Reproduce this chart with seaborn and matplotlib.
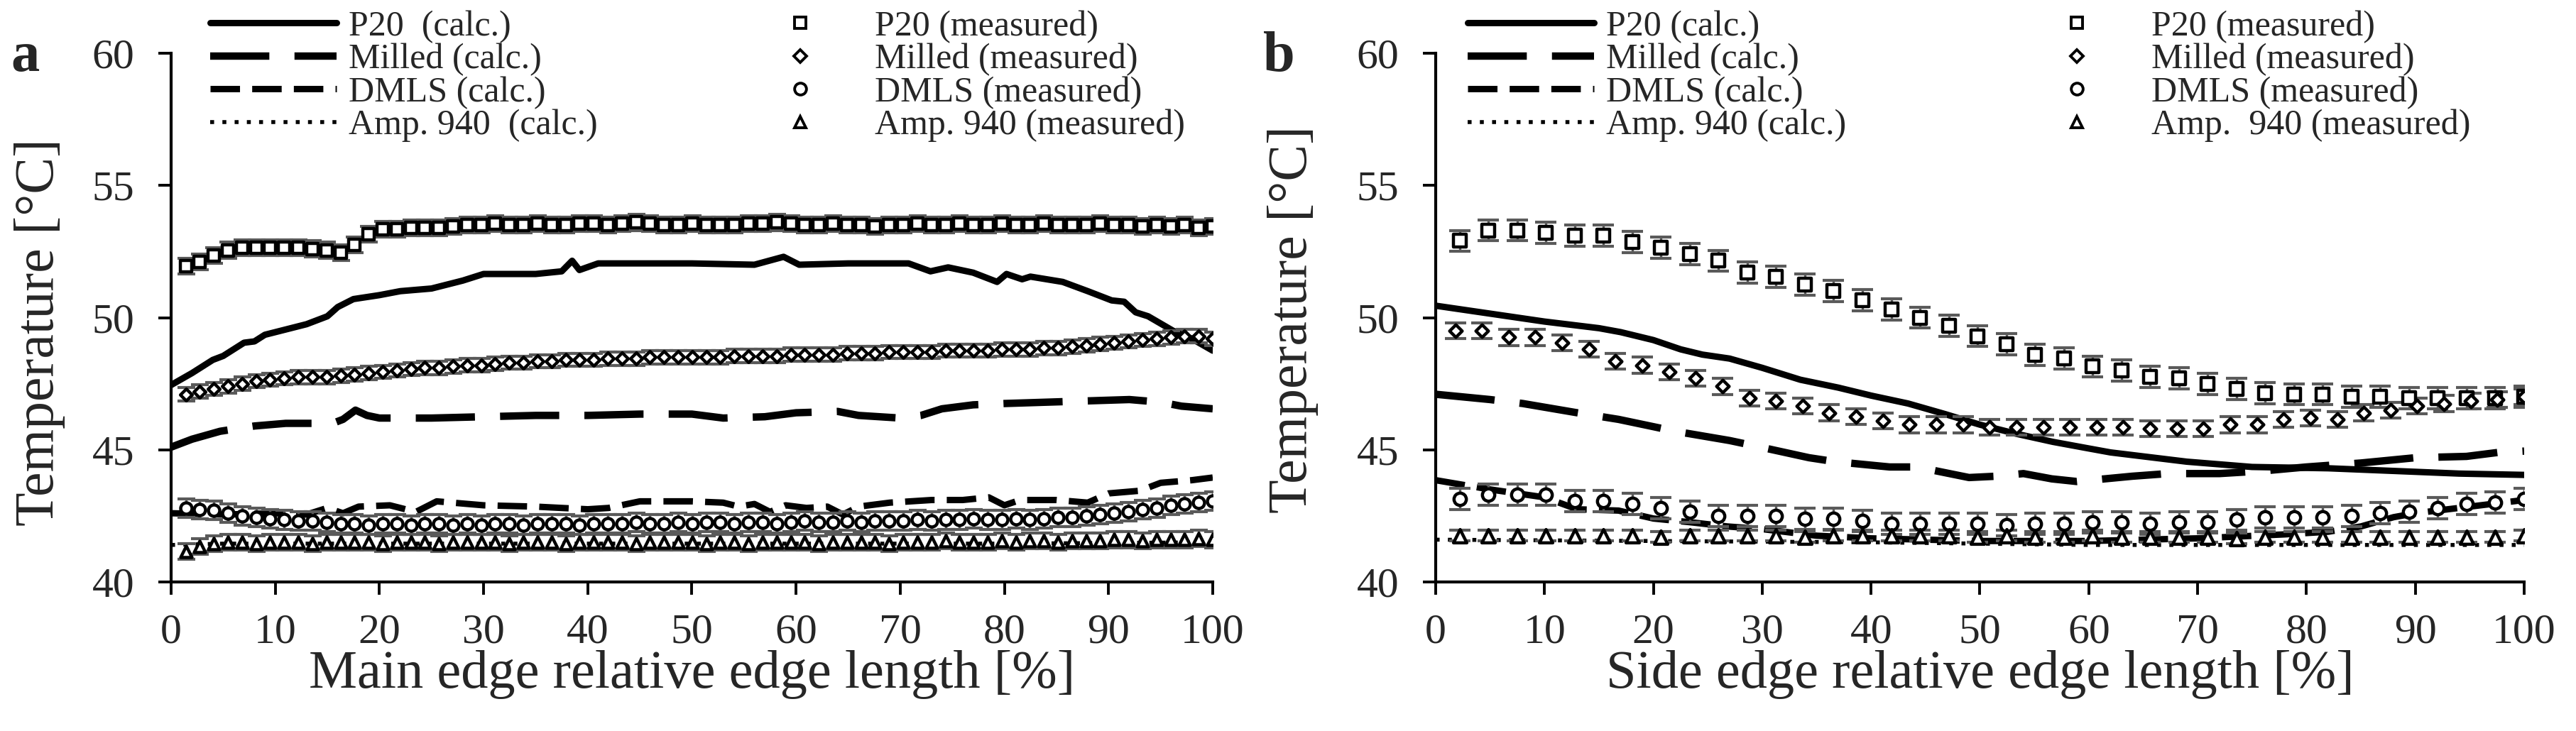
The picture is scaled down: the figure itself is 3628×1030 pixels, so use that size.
import numpy as np
import matplotlib
matplotlib.use("Agg")
import matplotlib.pyplot as plt
from matplotlib.lines import Line2D
import seaborn as sns

sns.set_style("ticks")
plt.rcParams["font.family"] = ["Liberation Serif", "DejaVu Serif"]

# ---------------- panel a : main edge ----------------
# calculated curves (x in %, temperature in degC)
a_p20_calc_x = [0, 2, 4, 5, 6, 7, 8, 9, 11, 13, 15, 16, 17.5, 20, 22, 25, 28, 30, 35, 37.5, 38.5, 39.2,
                41, 45, 50, 56, 58.8, 60.3, 65, 70.8, 72.9, 74.6, 77, 79.3, 80.2, 81.7, 82.5, 85.6,
                88, 90.3, 91.5, 92.6, 93.8, 96.2, 98, 100]
a_p20_calc_y = [47.45, 47.9, 48.4, 48.55, 48.8, 49.05, 49.1, 49.35, 49.55, 49.75, 50.05, 50.4, 50.7,
                50.85, 51.0, 51.1, 51.4, 51.65, 51.65, 51.75, 52.15, 51.8, 52.05, 52.05, 52.05, 52.0,
                52.3, 52.0, 52.05, 52.05, 51.75, 51.9, 51.7, 51.35, 51.65, 51.45, 51.55, 51.35, 51.0,
                50.65, 50.6, 50.2, 50.05, 49.5, 49.2, 48.75]
a_milled_calc_x = [0, 2, 4.7, 8, 11, 15.5, 16.5, 17.7, 18.8, 20, 25, 30, 35, 40, 45, 50, 53, 57, 60,
                   64, 66, 70, 72, 74, 77, 80, 84, 88, 92, 95, 97, 100]
a_milled_calc_y = [45.1, 45.4, 45.7, 45.9, 46.0, 46.0, 46.15, 46.5, 46.3, 46.2, 46.2, 46.25, 46.3, 46.3,
                   46.35, 46.35, 46.2, 46.25, 46.4, 46.45, 46.3, 46.2, 46.3, 46.55, 46.7, 46.75, 46.8,
                   46.85, 46.9, 46.8, 46.65, 46.55]
a_dmls_calc_x = [0, 5, 10, 13, 15, 16.5, 18, 21, 23.5, 25.5, 30, 35, 40, 42, 45, 50, 53, 54.5, 56,
                 57.5, 59, 61, 63, 64.5, 66, 69, 73, 76, 78.5, 80, 81.5, 85, 88, 90, 93, 95, 98, 100]
a_dmls_calc_y = [42.6, 42.55, 42.6, 42.55, 42.8, 42.6, 42.85, 42.9, 42.65, 43.05, 42.9, 42.85, 42.75,
                 42.8, 43.05, 43.05, 43.0, 42.85, 42.95, 42.65, 42.9, 42.8, 42.85, 42.55, 42.85, 43.0,
                 43.1, 43.1, 43.2, 42.9, 43.1, 43.1, 43.0, 43.35, 43.45, 43.75, 43.85, 43.95]
a_amp_calc_x = [0, 5, 20, 40, 60, 80, 100]
a_amp_calc_y = [41.4, 41.45, 41.45, 41.45, 41.45, 41.45, 41.5]

# measured points (74 positions along the main edge)
a_p20_meas = [51.95, 52.1, 52.35, 52.55, 52.65, 52.65, 52.65, 52.65, 52.65, 52.6,
              52.55, 52.45, 52.75, 53.15, 53.35, 53.35, 53.4, 53.4, 53.4, 53.45,
              53.5, 53.5, 53.55, 53.5, 53.5, 53.55, 53.5, 53.5, 53.55, 53.55,
              53.5, 53.55, 53.6, 53.55, 53.5, 53.5, 53.55, 53.5, 53.5, 53.5,
              53.55, 53.55, 53.6, 53.55, 53.5, 53.5, 53.55, 53.5, 53.5, 53.45,
              53.5, 53.5, 53.55, 53.5, 53.5, 53.55, 53.5, 53.5, 53.55, 53.5,
              53.5, 53.55, 53.5, 53.5, 53.5, 53.55, 53.5, 53.5, 53.45, 53.5,
              53.45, 53.5, 53.4, 53.45]
a_milled_meas = [47.1, 47.2, 47.3, 47.4, 47.5, 47.6, 47.65, 47.7, 47.75, 47.75,
                 47.75, 47.8, 47.85, 47.9, 47.95, 48.0, 48.05, 48.1, 48.1, 48.15,
                 48.2, 48.2, 48.25, 48.3, 48.3, 48.35, 48.35, 48.4, 48.4, 48.4,
                 48.45, 48.45, 48.45, 48.5, 48.5, 48.5, 48.5, 48.5, 48.5, 48.55,
                 48.55, 48.55, 48.55, 48.6, 48.6, 48.6, 48.6, 48.65, 48.65, 48.65,
                 48.7, 48.7, 48.7, 48.7, 48.75, 48.75, 48.75, 48.75, 48.8, 48.8,
                 48.8, 48.85, 48.85, 48.9, 48.95, 49.0, 49.05, 49.1, 49.15, 49.2,
                 49.25, 49.3, 49.3, 49.2]
a_dmls_meas = [42.8, 42.75, 42.7, 42.6, 42.5, 42.45, 42.4, 42.35, 42.3, 42.3,
               42.25, 42.2, 42.2, 42.15, 42.2, 42.2, 42.15, 42.2, 42.2, 42.15,
               42.2, 42.15, 42.2, 42.2, 42.15, 42.2, 42.2, 42.2, 42.15, 42.2,
               42.2, 42.2, 42.25, 42.2, 42.2, 42.25, 42.2, 42.25, 42.25, 42.2,
               42.25, 42.25, 42.2, 42.25, 42.3, 42.25, 42.25, 42.3, 42.25, 42.3,
               42.3, 42.3, 42.35, 42.3, 42.35, 42.35, 42.4, 42.35, 42.35, 42.4,
               42.35, 42.4, 42.45, 42.45, 42.5, 42.55, 42.6, 42.65, 42.75, 42.8,
               42.9, 42.95, 43.0, 43.05]
a_amp_meas = [41.15, 41.35, 41.45,
              41.5, 41.5, 41.45, 41.5, 41.5, 41.5, 41.45, 41.5, 41.5, 41.5,
              41.5, 41.45, 41.5, 41.5, 41.5, 41.45, 41.5, 41.5, 41.5, 41.5,
              41.45, 41.5, 41.5, 41.5, 41.45, 41.5, 41.5, 41.5, 41.5, 41.45,
              41.5, 41.5, 41.5, 41.5, 41.45, 41.5, 41.5, 41.45, 41.5, 41.5,
              41.5, 41.5, 41.45, 41.5, 41.5, 41.5, 41.5, 41.45, 41.5, 41.5,
              41.5, 41.55, 41.5, 41.5, 41.5, 41.55, 41.5, 41.55, 41.55, 41.5,
              41.55, 41.55, 41.55, 41.6, 41.6, 41.55, 41.6, 41.6, 41.6, 41.65,
              41.6]
a_meas_x = np.linspace(1.4, 100, len(a_p20_meas))
a_err = {"P20": 0.3, "Milled": 0.25, "DMLS": 0.35, "Amp. 940": 0.3}

# ---------------- panel b : side edge ----------------
b_p20_calc_x = [0, 5, 10, 15, 17, 20, 22.5, 24.5, 27, 30, 33.5, 37, 40, 43.4, 46.8, 50, 53.4, 56.7,
                60, 62, 65, 69, 72, 75, 82, 88, 94, 100]
b_p20_calc_y = [50.45, 50.15, 49.85, 49.6, 49.45, 49.15, 48.8, 48.6, 48.45, 48.1, 47.65, 47.35, 47.05,
                46.75, 46.35, 45.95, 45.6, 45.3, 45.05, 44.9, 44.75, 44.55, 44.45, 44.35, 44.3, 44.2,
                44.1, 44.05]
b_milled_calc_x = [0, 5, 8, 13, 16.8, 19.7, 22, 27, 29.3, 34.3, 36.7, 41.7, 44.2, 49, 51.5, 54, 56.6,
                   58.9, 64, 67.3, 72, 76, 80, 85, 90, 94.7, 97.6, 100]
b_milled_calc_y = [47.1, 46.9, 46.75, 46.4, 46.15, 45.9, 45.7, 45.35, 45.15, 44.7, 44.55, 44.35, 44.35,
                   43.95, 44.0, 44.1, 43.9, 43.8, 44.0, 44.1, 44.1, 44.2, 44.35, 44.5, 44.7, 44.75,
                   44.9, 44.95]
b_dmls_calc_x = [0, 5, 10, 13, 16.8, 20, 23.6, 26.8, 30, 35, 40, 50, 60, 70, 78, 82, 85, 88, 90, 95, 100]
b_dmls_calc_y = [43.85, 43.5, 43.2, 42.75, 42.7, 42.4, 42.25, 42.1, 42.0, 41.75, 41.65, 41.55, 41.55,
                 41.65, 41.8, 41.9, 42.1, 42.45, 42.6, 42.85, 43.1]
b_amp_calc_x = [0, 20, 40, 60, 80, 100]
b_amp_calc_y = [41.6, 41.55, 41.5, 41.4, 41.4, 41.4]

b_p20_meas = [52.9, 53.3, 53.3, 53.2, 53.1, 53.1, 52.85, 52.65, 52.4, 52.15,
              51.7, 51.55, 51.25, 51.0, 50.65, 50.3, 50.0, 49.7, 49.3, 49.0,
              48.6, 48.45, 48.15, 48.0, 47.75, 47.7, 47.5, 47.3, 47.15, 47.1,
              47.1, 47.0, 47.0, 46.95, 46.95, 46.95, 46.95, 47.0]
b_dmls_meas = [43.15, 43.3, 43.3, 43.3, 43.05, 43.05, 42.95, 42.8, 42.65, 42.5,
               42.5, 42.5, 42.4, 42.4, 42.3, 42.2, 42.2, 42.2, 42.2, 42.15,
               42.2, 42.2, 42.25, 42.25, 42.2, 42.25, 42.25, 42.35, 42.45, 42.45,
               42.45, 42.5, 42.6, 42.65, 42.8, 42.95, 43.0, 43.15]
b_amp_meas = [41.75, 41.75, 41.75, 41.75, 41.75, 41.75, 41.75, 41.7, 41.75, 41.75,
              41.75, 41.75, 41.7, 41.75, 41.75, 41.75, 41.75, 41.75, 41.7, 41.75,
              41.7, 41.7, 41.75, 41.7, 41.7, 41.7, 41.7, 41.65, 41.7, 41.7,
              41.7, 41.7, 41.7, 41.7, 41.7, 41.7, 41.7, 41.75]
b_milled_meas = [49.5, 49.5, 49.25, 49.25, 49.05, 48.8, 48.35, 48.2, 47.95, 47.7,
                 47.4, 46.95, 46.85, 46.65, 46.4, 46.25, 46.1, 45.95, 45.95, 45.95,
                 45.85, 45.85, 45.85, 45.85, 45.85, 45.85, 45.8, 45.8, 45.8, 45.95,
                 45.95, 46.15, 46.2, 46.15, 46.4, 46.5, 46.65, 46.75, 46.85, 46.9,
                 47.0]
b_sq_x = np.linspace(2.2, 100, len(b_p20_meas))
b_dia_x = np.linspace(1.8, 100, len(b_milled_meas))
b_err = {"P20": 0.4, "Milled": 0.3, "DMLS": 0.4, "Amp. 940": 0.2}

names = ["P20", "Milled", "DMLS", "Amp. 940"]
calc_styles = {
    "P20": dict(linestyle="-", linewidth=6.5),
    "Milled": dict(linestyle=(0, (8.0, 3.4)), linewidth=7.5),
    "DMLS": dict(linestyle=(0, (4.6, 1.9)), linewidth=6.5),
    "Amp. 940": dict(linestyle=(0, (1, 2.1)), linewidth=4),
}
markers = {"P20": "s", "Milled": "D", "DMLS": "o", "Amp. 940": "^"}
a_msize = {"P20": 11.0, "Milled": 8.5, "DMLS": 11.5, "Amp. 940": 11.5}
b_msize = {"P20": 13.0, "Milled": 9.0, "DMLS": 12.5, "Amp. 940": 13.5}

fig = plt.figure(figsize=(36.28, 10.30), dpi=100)
ax_a = fig.add_axes([0.06643, 0.20388, 0.40435, 0.72330])
ax_b = fig.add_axes([0.55733, 0.20388, 0.42255, 0.72330])


def draw(ax, calc, meas, err, msize, cap):
    for name in names:
        cx, cy = calc[name]
        sns.lineplot(x=cx, y=cy, ax=ax, color="black", estimator=None, sort=False,
                     zorder=2, **calc_styles[name])
    for name in names:
        mx, my = meas[name]
        ax.errorbar(mx, my, yerr=err[name], fmt="none", ecolor="#5a5a5a", elinewidth=2.4,
                    capsize=cap, capthick=3.0, zorder=3)
        sns.scatterplot(x=mx, y=my, ax=ax, marker=markers[name], s=msize[name] ** 2,
                        facecolor="white", edgecolor="black", linewidth=3.2, zorder=4)


draw(ax_a,
     {"P20": (a_p20_calc_x, a_p20_calc_y), "Milled": (a_milled_calc_x, a_milled_calc_y),
      "DMLS": (a_dmls_calc_x, a_dmls_calc_y), "Amp. 940": (a_amp_calc_x, a_amp_calc_y)},
     {"P20": (a_meas_x, a_p20_meas), "Milled": (a_meas_x, a_milled_meas),
      "DMLS": (a_meas_x, a_dmls_meas), "Amp. 940": (a_meas_x, a_amp_meas)},
     a_err, a_msize, 9)
draw(ax_b,
     {"P20": (b_p20_calc_x, b_p20_calc_y), "Milled": (b_milled_calc_x, b_milled_calc_y),
      "DMLS": (b_dmls_calc_x, b_dmls_calc_y), "Amp. 940": (b_amp_calc_x, b_amp_calc_y)},
     {"P20": (b_sq_x, b_p20_meas), "Milled": (b_dia_x, b_milled_meas),
      "DMLS": (b_sq_x, b_dmls_meas), "Amp. 940": (b_sq_x, b_amp_meas)},
     b_err, b_msize, 11)

for ax, xlab, ylab_xy in [(ax_a, "Main edge relative edge length [%]", (-0.1016, 0.472)),
                          (ax_b, "Side edge relative edge length [%]", (-0.1076, 0.497))]:
    ax.set_xlim(0, 100)
    ax.set_ylim(40, 60)
    ax.set_xticks(range(0, 101, 10))
    ax.set_yticks(range(40, 61, 5))
    sns.despine(ax=ax)
    for sp in ["left", "bottom"]:
        ax.spines[sp].set_linewidth(3.0)
        ax.spines[sp].set_color("black")
    ax.tick_params(axis="both", labelsize=43, length=13, width=2.8, color="black")
    ax.tick_params(axis="y", pad=24)
    ax.tick_params(axis="x", pad=19)
    ax.set_xlabel(xlab, fontsize=55)
    ax.set_ylabel("Temperature [°C]", fontsize=56)
    ax.xaxis.set_label_coords(0.5, -0.129)
    ax.yaxis.set_label_coords(*ylab_xy)


# legends
def legends(ax, calc_labels, meas_labels, x_calc, x_meas):
    calc_h = [Line2D([], [], color="black", **calc_styles[n]) for n in names]
    meas_h = [Line2D([], [], marker=markers[n], linestyle="none", markerfacecolor="white",
                     markeredgecolor="black", markeredgewidth=2.8,
                     markersize=9 if n == "Milled" else 12) for n in names]
    leg1 = ax.legend(calc_h, calc_labels, loc="upper left", bbox_to_anchor=(x_calc, 0.986),
                     bbox_transform=fig.transFigure, frameon=False, fontsize=36,
                     handlelength=3.56, handletextpad=0.34, labelspacing=0.0,
                     borderpad=0, borderaxespad=0)
    ax.add_artist(leg1)
    ax.legend(meas_h, meas_labels, loc="upper left", bbox_to_anchor=(x_meas, 0.986),
              bbox_transform=fig.transFigure, frameon=False, fontsize=36,
              handlelength=1.0, handletextpad=1.6, labelspacing=0.0,
              borderpad=0, borderaxespad=0)


legends(ax_a, ["P20  (calc.)", "Milled (calc.)", "DMLS (calc.)", "Amp. 940  (calc.)"],
        ["P20 (measured)", "Milled (measured)", "DMLS (measured)", "Amp. 940 (measured)"],
        0.0816, 0.3037)
legends(ax_b, ["P20 (calc.)", "Milled (calc.)", "DMLS (calc.)", "Amp. 940 (calc.)"],
        ["P20 (measured)", "Milled (measured)", "DMLS (measured)", "Amp.  940 (measured)"],
        0.5697, 0.7993)

fig.text(36 / 3628, 0.903, "a", fontsize=58, fontweight="bold", ha="center", va="baseline")
fig.text(1801 / 3628, 0.903, "b", fontsize=58, fontweight="bold", ha="center", va="baseline")

fig.savefig("out.png", dpi=100)
